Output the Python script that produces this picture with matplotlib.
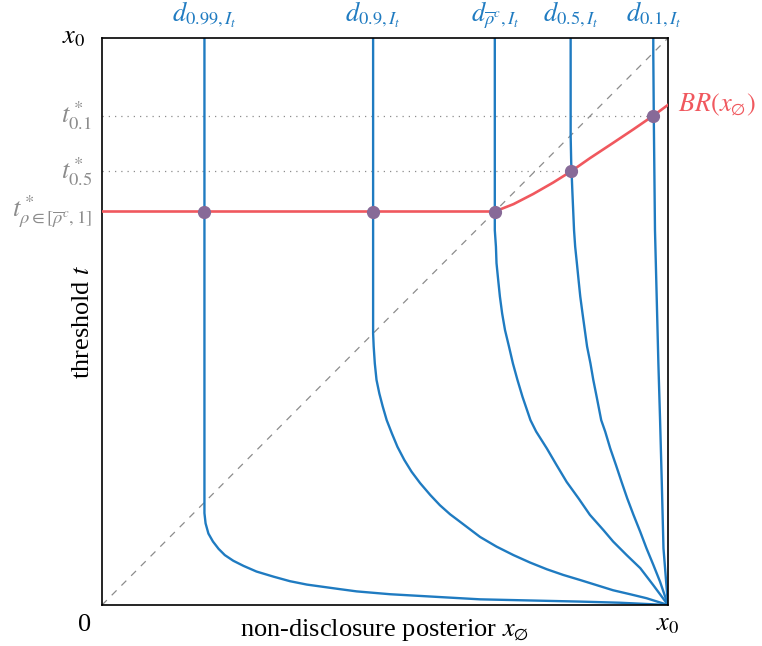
import numpy as np
import matplotlib
matplotlib.use('Agg')
import matplotlib.pyplot as plt

plt.rcParams['font.family'] = 'serif'
plt.rcParams['font.serif'] = ['Liberation Serif', 'DejaVu Serif']
plt.rcParams['mathtext.fontset'] = 'stix'

# d-curves: non-disclosure posterior x vs threshold t (x0 = 1)
d099_x = [0.181, 0.181, 0.181, 0.183, 0.188, 0.196, 0.206, 0.217, 0.232, 0.250, 0.273, 0.303,
          0.332, 0.362, 0.391, 0.420, 0.450, 0.509, 0.597, 0.668, 0.756, 0.845, 0.915, 1.0]
d099_t = [1.0, 0.181, 0.162, 0.144, 0.126, 0.112, 0.099, 0.088, 0.078, 0.069, 0.059, 0.050,
          0.042, 0.036, 0.032, 0.028, 0.024, 0.019, 0.014, 0.010, 0.008, 0.006, 0.004, 0.0]

d09_x = [0.479, 0.479, 0.480, 0.482, 0.485, 0.490, 0.496, 0.503, 0.512, 0.522, 0.534, 0.547,
         0.562, 0.580, 0.597, 0.615, 0.627, 0.668, 0.697, 0.727, 0.756, 0.786, 0.815, 0.845,
         0.874, 0.903, 0.933, 0.962, 1.0]
d09_t = [1.0, 0.479, 0.456, 0.426, 0.397, 0.373, 0.350, 0.326, 0.303, 0.279, 0.256, 0.235,
         0.215, 0.194, 0.176, 0.160, 0.151, 0.120, 0.103, 0.088, 0.075, 0.063, 0.053, 0.044,
         0.035, 0.026, 0.019, 0.012, 0.0]

drho_x = [0.694, 0.694, 0.696, 0.697, 0.700, 0.703, 0.707, 0.712, 0.719, 0.726, 0.734, 0.743,
          0.757, 0.767, 0.786, 0.803, 0.821, 0.842, 0.862, 0.886, 0.903, 0.927, 0.951, 0.974, 1.0]
drho_t = [1.0, 0.661, 0.632, 0.603, 0.573, 0.544, 0.514, 0.485, 0.456, 0.426, 0.397, 0.367,
          0.326, 0.306, 0.276, 0.247, 0.217, 0.188, 0.159, 0.132, 0.112, 0.088, 0.065, 0.035, 0.0]

d05_x = [0.828, 0.828, 0.829, 0.831, 0.834, 0.836, 0.839, 0.842, 0.845, 0.849, 0.853, 0.857,
         0.863, 0.868, 0.874, 0.882, 0.889, 0.898, 0.908, 0.918, 0.928, 0.939, 0.951, 0.962,
         0.974, 0.986, 1.0]
d05_t = [1.0, 0.828, 0.78, 0.73, 0.661, 0.632, 0.603, 0.573, 0.544, 0.514, 0.485, 0.456,
         0.426, 0.397, 0.367, 0.326, 0.306, 0.276, 0.247, 0.217, 0.188, 0.159, 0.129, 0.100,
         0.071, 0.041, 0.0]

d01_x = [0.974, 0.974, 0.975, 0.977, 0.980, 0.983, 0.986, 0.989, 0.992, 1.0]
d01_t = [1.0, 0.974, 0.85, 0.661, 0.544, 0.426, 0.326, 0.217, 0.100, 0.0]

curves = [(d099_x, d099_t), (d09_x, d09_t), (drho_x, drho_t), (d05_x, d05_t), (d01_x, d01_t)]
curve_labels = [r'$d_{0.99,I_t}$', r'$d_{0.9,I_t}$', r'$d_{\overline{\rho}^c,I_t}$',
                r'$d_{0.5,I_t}$', r'$d_{0.1,I_t}$']

# best response BR(x_empty)
br_x = [0.0, 0.694, 0.727, 0.762, 0.797, 0.829, 0.862, 0.903, 0.939, 0.974, 1.0]
br_t = [0.694, 0.694, 0.707, 0.725, 0.745, 0.765, 0.788, 0.815, 0.839, 0.863, 0.882]

# equilibrium points
eq_x = [0.181, 0.479, 0.694, 0.829, 0.974]
eq_t = [0.694, 0.694, 0.694, 0.765, 0.863]

tstar_vals = [0.863, 0.765, 0.694]
tstar_labels = [r'$t^*_{0.1}$', r'$t^*_{0.5}$', r'$t^*_{\rho\in[\overline{\rho}^c,1]}$']

blue = '#1f7bc1'
red = '#f0585e'
purple = '#876a98'
grey = '#8c8c8c'
fs = 19

fig = plt.figure(figsize=(7.62, 6.46), dpi=100)
ax = fig.add_axes([102/762, 41/646, 566/762, 567/646])

ax.plot([0, 1], [0, 1], color=grey, lw=0.9, dashes=(5.5, 5.5), zorder=1)

for (xs, ts), lab in zip(curves, curve_labels):
    ax.plot(xs, ts, color=blue, lw=1.7, zorder=2, solid_joinstyle='round')
    ax.text(xs[0], 1.030, lab, color=blue, fontsize=fs, ha='center', va='baseline')

# dotted guides to t*_0.1 and t*_0.5
ax.plot([0, eq_x[4]], [tstar_vals[0]] * 2, color=grey, lw=0.9, ls=(0, (1, 4)), zorder=1)
ax.plot([0, eq_x[3]], [tstar_vals[1]] * 2, color=grey, lw=0.9, ls=(0, (1, 4)), zorder=1)

ax.plot(br_x, br_t, color=red, lw=1.9, zorder=3, solid_joinstyle='round')
ax.text(1.018, br_t[-1], r'$BR(x_{\varnothing})$', color=red, fontsize=fs, ha='left', va='center')

ax.plot(eq_x, eq_t, 'o', color=purple, ms=8.5, zorder=4)

for tv, lab in zip(tstar_vals, tstar_labels):
    ax.text(-0.018, tv, lab, color=grey, fontsize=fs, ha='right', va='center')

ax.text(-0.03, 1.0, r'$x_0$', fontsize=fs, ha='right', va='center')
ax.text(-0.03, -0.035, '0', fontsize=fs, ha='center', va='center')
ax.text(1.0, -0.035, r'$x_0$', fontsize=fs, ha='center', va='center')
ax.text(0.5, -0.055, r'non-disclosure posterior $x_{\varnothing}$', fontsize=fs,
        ha='center', va='baseline')
ax.text(-0.034, 0.5, r'threshold $t$', fontsize=fs, ha='center', va='center', rotation=90)

ax.set_xlim(0, 1)
ax.set_ylim(0, 1)
ax.set_xticks([])
ax.set_yticks([])
for s in ax.spines.values():
    s.set_linewidth(1.2)

fig.savefig('out.png', dpi=100)
